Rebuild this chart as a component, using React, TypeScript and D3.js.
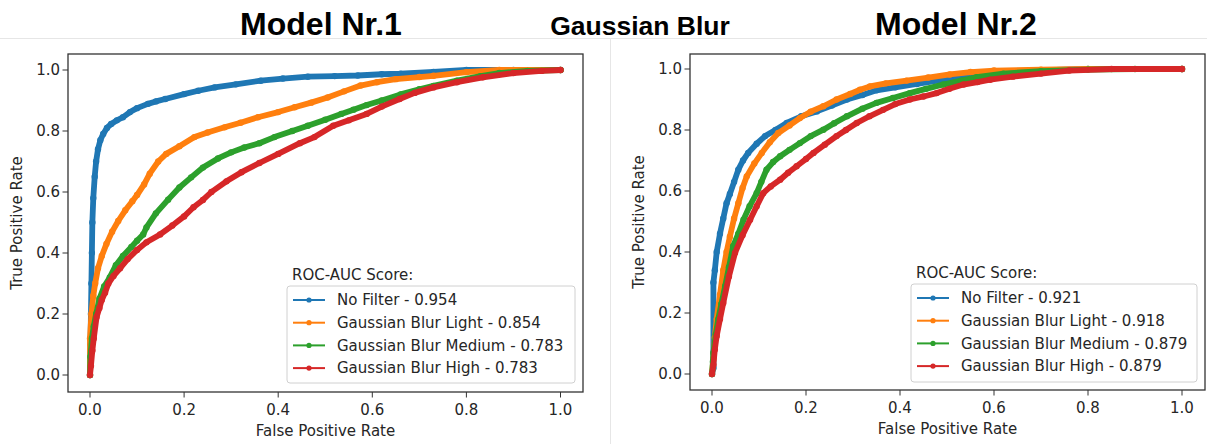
import React from "react";
import * as d3 from "d3";

type Pt = [number, number];

// ---------- data (FPR, TPR) ----------
const m1NoFilter: Pt[] = [[0,0],[0.001,0.1],[0.002,0.2],[0.003,0.3],[0.004,0.4],[0.005,0.5],[0.007,0.58],[0.01,0.65],[0.013,0.7],[0.017,0.74],[0.022,0.77],[0.028,0.79],[0.036,0.81],[0.045,0.823],[0.057,0.835],[0.07,0.845],[0.085,0.862],[0.1,0.875],[0.123,0.889],[0.14,0.897],[0.16,0.905],[0.2,0.921],[0.23,0.932],[0.265,0.943],[0.31,0.953],[0.363,0.965],[0.41,0.972],[0.463,0.978],[0.52,0.98],[0.569,0.982],[0.62,0.986],[0.66,0.988],[0.73,0.994],[0.8,1],[0.9,1],[1,1]];
const m1Light: Pt[] = [[0,0],[0,0.12],[0.003,0.2],[0.007,0.26],[0.011,0.3],[0.017,0.35],[0.025,0.39],[0.035,0.43],[0.047,0.47],[0.06,0.505],[0.075,0.54],[0.09,0.57],[0.1,0.59],[0.115,0.625],[0.127,0.66],[0.145,0.7],[0.162,0.725],[0.19,0.75],[0.222,0.78],[0.25,0.795],[0.286,0.812],[0.32,0.827],[0.357,0.845],[0.4,0.862],[0.435,0.878],[0.47,0.893],[0.505,0.91],[0.54,0.93],[0.575,0.949],[0.61,0.96],[0.65,0.97],[0.7,0.977],[0.73,0.981],[0.8,0.993],[0.87,1],[1,1]];
const m1Medium: Pt[] = [[0,0],[0.001,0.06],[0.004,0.12],[0.008,0.16],[0.013,0.2],[0.02,0.25],[0.03,0.29],[0.042,0.32],[0.055,0.36],[0.07,0.39],[0.088,0.42],[0.1,0.44],[0.113,0.461],[0.12,0.484],[0.14,0.53],[0.166,0.575],[0.19,0.615],[0.215,0.648],[0.24,0.68],[0.272,0.71],[0.3,0.73],[0.328,0.746],[0.36,0.76],[0.392,0.78],[0.43,0.8],[0.463,0.817],[0.5,0.837],[0.534,0.856],[0.56,0.87],[0.588,0.885],[0.62,0.9],[0.66,0.92],[0.7,0.937],[0.73,0.948],[0.78,0.965],[0.83,0.98],[0.87,0.99],[0.93,0.997],[1,1]];
const m1High: Pt[] = [[0,0],[0.002,0.03],[0.005,0.08],[0.008,0.12],[0.014,0.19],[0.02,0.22],[0.025,0.246],[0.032,0.27],[0.039,0.3],[0.05,0.325],[0.064,0.35],[0.08,0.38],[0.1,0.41],[0.12,0.435],[0.149,0.461],[0.175,0.49],[0.2,0.52],[0.22,0.55],[0.24,0.574],[0.258,0.6],[0.29,0.635],[0.322,0.665],[0.36,0.695],[0.4,0.725],[0.446,0.76],[0.477,0.78],[0.517,0.817],[0.55,0.835],[0.588,0.856],[0.62,0.88],[0.658,0.905],[0.69,0.925],[0.73,0.943],[0.78,0.96],[0.835,0.976],[0.9,0.99],[0.96,0.997],[1,1]];

const m2NoFilter: Pt[] = [[0,0],[0.003,0.02],[0.003,0.3],[0.006,0.34],[0.01,0.4],[0.017,0.46],[0.024,0.51],[0.031,0.56],[0.038,0.59],[0.047,0.63],[0.056,0.67],[0.066,0.7],[0.077,0.725],[0.095,0.755],[0.113,0.78],[0.135,0.8],[0.159,0.823],[0.19,0.845],[0.223,0.861],[0.255,0.88],[0.287,0.9],[0.32,0.915],[0.35,0.93],[0.39,0.94],[0.436,0.951],[0.48,0.962],[0.521,0.973],[0.56,0.982],[0.6,0.99],[0.68,0.995],[0.8,1],[1,1]];
const m2Light: Pt[] = [[0,0],[0.003,0.05],[0.006,0.12],[0.01,0.18],[0.017,0.26],[0.024,0.34],[0.031,0.4],[0.038,0.45],[0.047,0.51],[0.056,0.56],[0.065,0.61],[0.074,0.648],[0.09,0.69],[0.106,0.725],[0.123,0.76],[0.141,0.79],[0.165,0.815],[0.187,0.839],[0.21,0.86],[0.237,0.878],[0.265,0.9],[0.294,0.918],[0.315,0.932],[0.336,0.943],[0.37,0.953],[0.414,0.962],[0.46,0.972],[0.506,0.982],[0.55,0.99],[0.6,0.995],[0.7,0.998],[0.8,1],[1,1]];
const m2Medium: Pt[] = [[0,0],[0.002,0.04],[0.003,0.07],[0.008,0.13],[0.013,0.178],[0.02,0.23],[0.028,0.288],[0.036,0.35],[0.045,0.419],[0.056,0.46],[0.067,0.506],[0.08,0.55],[0.095,0.593],[0.105,0.63],[0.116,0.67],[0.13,0.695],[0.145,0.714],[0.165,0.735],[0.187,0.757],[0.21,0.78],[0.237,0.801],[0.26,0.822],[0.287,0.845],[0.32,0.87],[0.35,0.889],[0.385,0.905],[0.421,0.921],[0.455,0.935],[0.492,0.949],[0.53,0.962],[0.563,0.973],[0.62,0.985],[0.7,0.993],[0.8,0.998],[0.9,1],[1,1]];
const m2High: Pt[] = [[0,0],[0.003,0.03],[0.006,0.08],[0.01,0.125],[0.017,0.18],[0.024,0.233],[0.036,0.32],[0.049,0.397],[0.065,0.455],[0.081,0.506],[0.095,0.55],[0.109,0.593],[0.125,0.615],[0.145,0.637],[0.162,0.66],[0.18,0.681],[0.2,0.705],[0.216,0.725],[0.24,0.752],[0.265,0.78],[0.285,0.8],[0.308,0.823],[0.335,0.845],[0.364,0.866],[0.39,0.885],[0.421,0.9],[0.45,0.91],[0.478,0.921],[0.505,0.935],[0.535,0.949],[0.565,0.957],[0.592,0.965],[0.64,0.975],[0.7,0.985],[0.76,0.995],[0.85,1],[1,1]];

const seriesNames = ["No Filter", "Gaussian Blur Light", "Gaussian Blur Medium", "Gaussian Blur High"];
const m1Scores = ["0.954", "0.854", "0.783", "0.783"];
const m2Scores = ["0.921", "0.918", "0.879", "0.879"];
const colors = ["#1f77b4", "#ff7f0e", "#2ca02c", "#d62728"];
const ticks = [0, 0.2, 0.4, 0.6, 0.8, 1.0];

const FONT = "'DejaVu Sans', sans-serif";
const TXT = "#262626";
const TITLE_FONT = "'Liberation Sans', Arial, sans-serif";

interface PanelProps {
  frame: { l: number; t: number; r: number; b: number };
  x0: number; x1: number; y0: number; y1: number;
  data: Pt[][];
  scores: string[];
  legend: { l: number; t: number; r: number; b: number };
}

function Panel({ frame, x0, x1, y0, y1, data, scores, legend }: PanelProps) {
  const x = d3.scaleLinear().domain([0, 1]).range([x0, x1]);
  const y = d3.scaleLinear().domain([0, 1]).range([y0, y1]);
  const line = d3.line<Pt>().x((d) => x(d[0])).y((d) => y(d[1]));
  const cx = (frame.l + frame.r) / 2;
  const cy = (frame.t + frame.b) / 2;
  const rowH = 22.7;
  return (
    <g>
      {data.map((d, i) => (
        <g key={i}>
          <path d={line(d) || ""} fill="none" stroke={colors[i]} strokeWidth={5.8} strokeLinejoin="round" strokeLinecap="round" />
          {d.map((p, j) => (
            <circle key={j} cx={x(p[0])} cy={y(p[1])} r={3.2} fill={colors[i]} />
          ))}
        </g>
      ))}
      <rect x={frame.l} y={frame.t} width={frame.r - frame.l} height={frame.b - frame.t} fill="none" stroke="#333" strokeWidth={1.3} />
      {ticks.map((t) => (
        <g key={"x" + t}>
          <line x1={x(t)} x2={x(t)} y1={frame.b} y2={frame.b + 5.5} stroke="#333" strokeWidth={1} />
          <text x={x(t)} y={frame.b + 23} textAnchor="middle" fontSize={15} fontFamily={FONT} fill={TXT}>{t.toFixed(1)}</text>
        </g>
      ))}
      {ticks.map((t) => (
        <g key={"y" + t}>
          <line x1={frame.l - 5.5} x2={frame.l} y1={y(t)} y2={y(t)} stroke="#333" strokeWidth={1} />
          <text x={frame.l - 8} y={y(t) + 5.3} textAnchor="end" fontSize={15} fontFamily={FONT} fill={TXT}>{t.toFixed(1)}</text>
        </g>
      ))}
      <text x={cx} y={frame.b + 44} textAnchor="middle" fontSize={15} fontFamily={FONT} fill={TXT}>False Positive Rate</text>
      <text transform={`translate(${frame.l - 46},${cy}) rotate(-90)`} textAnchor="middle" fontSize={15} fontFamily={FONT} fill={TXT}>True Positive Rate</text>
      <text x={legend.l + 5} y={legend.t - 6} fontSize={15} fontFamily={FONT} fill={TXT}>ROC-AUC Score:</text>
      <rect x={legend.l} y={legend.t} width={legend.r - legend.l} height={legend.b - legend.t} rx={3} fill="white" fillOpacity={0.85} stroke="#d0d0d0" strokeWidth={1} />
      {seriesNames.map((n, i) => {
        const ry = legend.t + 14 + i * rowH;
        return (
          <g key={n}>
            <line x1={legend.l + 6} x2={legend.l + 38} y1={ry} y2={ry} stroke={colors[i]} strokeWidth={2} />
            <circle cx={legend.l + 22} cy={ry} r={2.6} fill={colors[i]} />
            <text x={legend.l + 50} y={ry + 5.3} fontSize={15} fontFamily={FONT} fill={TXT}>{`${n} - ${scores[i]}`}</text>
          </g>
        );
      })}
    </g>
  );
}

export default function App() {
  return (
    <svg width={1207} height={444} style={{ position: "absolute", left: 0, top: 0, background: "white" }}>
      <rect x={0} y={0} width={1207} height={444} fill="white" />
      <line x1={0} x2={1207} y1={38.5} y2={38.5} stroke="#e6e6e6" strokeWidth={1} />
      <line x1={610.5} x2={610.5} y1={38.5} y2={444} stroke="#e6e6e6" strokeWidth={1} />
      <text x={321} y={35} textAnchor="middle" fontSize={32} fontWeight="bold" fontFamily={TITLE_FONT} fill="#000">Model Nr.1</text>
      <text x={640} y={35} textAnchor="middle" fontSize={26.5} fontWeight="bold" fontFamily={TITLE_FONT} fill="#000">Gaussian Blur</text>
      <text x={956} y={35} textAnchor="middle" fontSize={32} fontWeight="bold" fontFamily={TITLE_FONT} fill="#000">Model Nr.2</text>
      <Panel
        frame={{ l: 68, t: 54, r: 583, b: 392 }}
        x0={90} x1={560.5} y0={375} y1={70}
        data={[m1NoFilter, m1Light, m1Medium, m1High]}
        scores={m1Scores}
        legend={{ l: 287, t: 286, r: 575, b: 383 }}
      />
      <Panel
        frame={{ l: 690, t: 54, r: 1205, b: 390 }}
        x0={712} x1={1182} y0={374} y1={69}
        data={[m2NoFilter, m2Light, m2Medium, m2High]}
        scores={m2Scores}
        legend={{ l: 911, t: 284, r: 1197, b: 382 }}
      />
    </svg>
  );
}
